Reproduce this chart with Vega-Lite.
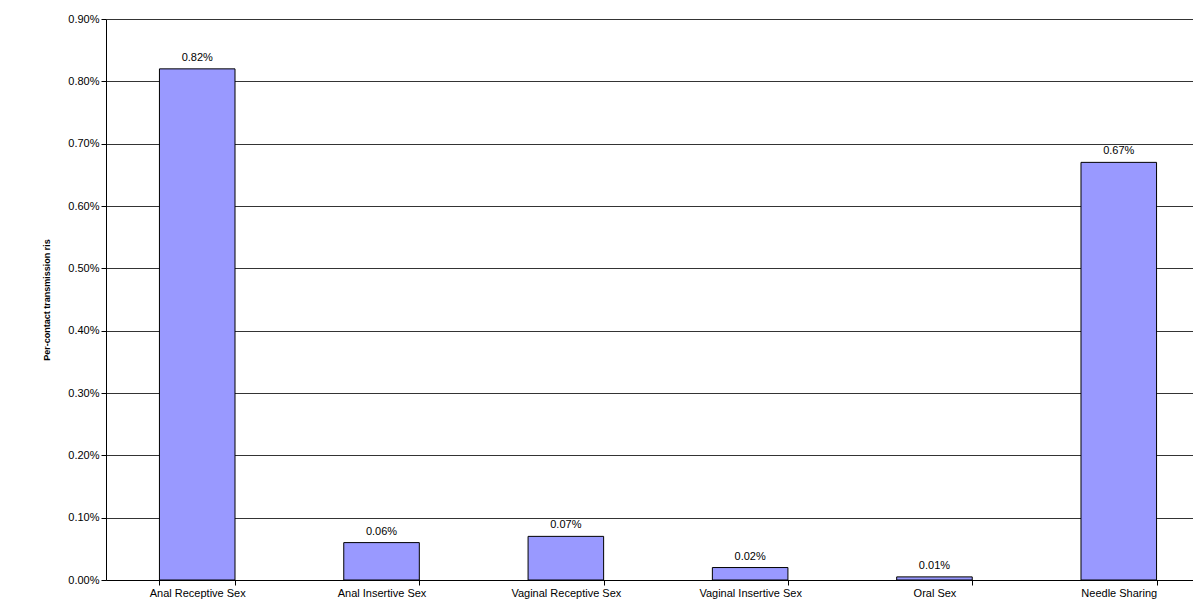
{
  "$schema": "https://vega.github.io/schema/vega-lite/v6.json",
  "width": 1104,
  "height": 561,
  "autosize": "none",
  "padding": {"left": 106, "top": 19, "right": 0, "bottom": 26},
  "background": "white",
  "config": {
    "font": "Liberation Sans",
    "view": {"stroke": null}
  },
  "data": {
    "values": [
      {"route": "Anal Receptive Sex", "risk": 0.0082, "label": "0.82%"},
      {"route": "Anal Insertive Sex", "risk": 0.0006, "label": "0.06%"},
      {"route": "Vaginal Receptive Sex", "risk": 0.0007, "label": "0.07%"},
      {"route": "Vaginal Insertive Sex", "risk": 0.0002, "label": "0.02%"},
      {"route": "Oral Sex", "risk": 0.00005, "label": "0.01%"},
      {"route": "Needle Sharing", "risk": 0.0067, "label": "0.67%"}
    ]
  },
  "encoding": {
    "x": {
      "field": "route",
      "type": "nominal",
      "sort": null,
      "scale": {"paddingInner": 0.59, "paddingOuter": 0.29},
      "axis": {
        "title": null,
        "labelAngle": 0,
        "labelFontSize": 11,
        "labelColor": "black",
        "labelPadding": 2,
        "tickBand": "extent",
        "tickColor": "black",
        "tickSize": 5,
        "domainColor": "black"
      }
    },
    "y": {
      "field": "risk",
      "type": "quantitative",
      "scale": {"domain": [0, 0.009], "nice": false},
      "axis": {
        "title": "Per-contact transmission ris",
        "titleFontSize": 9,
        "titleFontWeight": "bold",
        "titlePadding": 16,
        "format": ".2%",
        "values": [0, 0.001, 0.002, 0.003, 0.004, 0.005, 0.006, 0.007, 0.008, 0.009],
        "labelFontSize": 11,
        "labelColor": "black",
        "gridColor": "black",
        "gridOpacity": 1,
        "gridWidth": 0.8,
        "tickColor": "black",
        "tickSize": 5,
        "domainColor": "black"
      }
    }
  },
  "layer": [
    {
      "mark": {"type": "bar", "color": "#9999FF", "stroke": "black", "strokeWidth": 1}
    },
    {
      "mark": {"type": "text", "dy": -11, "fontSize": 11, "color": "black"},
      "encoding": {"text": {"field": "label"}}
    }
  ]
}
